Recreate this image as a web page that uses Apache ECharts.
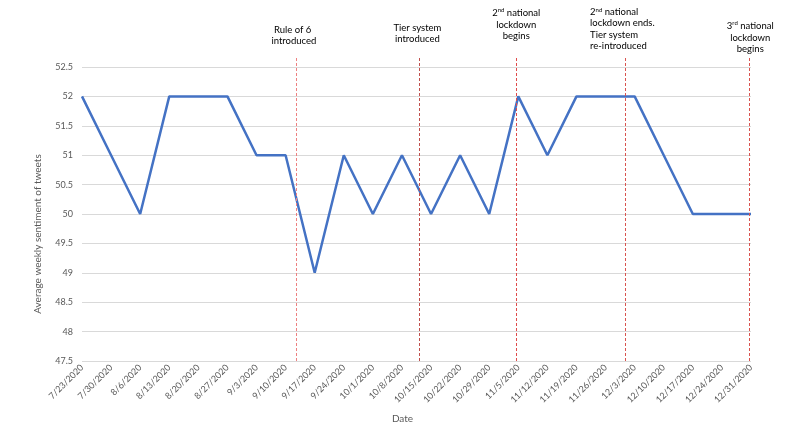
<!DOCTYPE html>
<html>
<head>
<meta charset="utf-8">
<script src="https://cdn.jsdelivr.net/npm/echarts@6/dist/echarts.min.js"></script>
<style>
    html, body { margin: 0; padding: 0; background: #fff; }
    #sentiment_line { width: 794px; height: 436px; }
</style>
</head>
<body>
<div id="sentiment_line"></div>
<script>

// Chart data
// ------------------------------

var dates = [
    '7/23/2020', '7/30/2020', '8/6/2020', '8/13/2020', '8/20/2020', '8/27/2020',
    '9/3/2020', '9/10/2020', '9/17/2020', '9/24/2020', '10/1/2020', '10/8/2020',
    '10/15/2020', '10/22/2020', '10/29/2020', '11/5/2020', '11/12/2020', '11/19/2020',
    '11/26/2020', '12/3/2020', '12/10/2020', '12/17/2020', '12/24/2020', '12/31/2020'
];

var sentiment = [
    52, 51, 50, 52, 52, 52,
    51, 51, 49, 51, 50, 51,
    50, 51, 50, 52, 51, 52,
    52, 52, 51, 50, 50, 50
];

// Event markers, position in weeks counted from 7/23/2020
var eventPositions = [7.38, 11.6, 14.93, 18.68, 22.94];
var eventLabels = [
    'Rule of 6\n introduced',
    'Tier system\nintroduced',
    '2{sup|nd} national\nlockdown\nbegins',
    '{l|2}{lsup|nd}{l| national}\n{l|lockdown ends.}\n{l|Tier system}\n{l|re-introduced}',
    '3{sup|rd} national\nlockdown\nbegins'
];

var yTicks = { min: 47.5, max: 52.5, step: 0.5 };


// Setup module
// ------------------------------

var EchartsSentimentLine = function() {

    var _sentimentLineExample = function() {
        if (typeof echarts == 'undefined') {
            console.warn('Warning - echarts.min.js is not loaded.');
            return;
        }

        var sentiment_element = document.getElementById('sentiment_line');
        if (!sentiment_element) return;

        var sentiment_chart = echarts.init(sentiment_element, null, { renderer: 'canvas' });

        var fontFamily = 'Lato, "Open Sans", sans-serif';

        // label placement tweaks for each marker
        var labelTweaks = [
            { distance: 9, offset: [-4, 0], color: '#ee8080' },
            { distance: 11, offset: [-2, 0], color: '#c0504d' },
            { distance: 14, offset: [0, 0], color: '#e04a4a' },
            { distance: 4, offset: [-3, 0], color: '#d9534f' },
            { distance: 1, offset: [1, 0], color: '#d9534f' }
        ];

        // marker lines live in a second grid which reaches a bit above the plot
        var markData = eventPositions.map(function(pos, i) {
            var t = labelTweaks[i];
            return [
                {
                    coord: [pos, 0],
                    lineStyle: { color: t.color, type: [3, 2], width: 1 },
                    label: {
                        show: true,
                        position: 'end',
                        distance: t.distance,
                        offset: t.offset,
                        formatter: eventLabels[i]
                    }
                },
                { coord: [pos, 1] }
            ];
        });

        sentiment_chart.setOption({

            textStyle: {
                fontFamily: fontFamily
            },

            animation: false,

            // Setup grid
            grid: [{
                left: 82,
                right: 43,
                top: 67,
                bottom: 75,
                containLabel: false
            }, {
                left: 82,
                right: 43,
                top: 56,
                bottom: 75,
                containLabel: false
            }],

            // Horizontal axis
            xAxis: [{
                type: 'value',
                gridIndex: 0,
                min: 0,
                max: dates.length - 1,
                interval: 1,
                name: 'Date',
                nameLocation: 'middle',
                nameGap: 53,
                nameTextStyle: {
                    color: '#595959',
                    fontSize: 10,
                    fontFamily: fontFamily,
                    padding: [0, 28, 0, 0]
                },
                axisLabel: {
                    rotate: 45,
                    margin: 5,
                    color: '#595959',
                    fontSize: 9,
                    fontFamily: fontFamily,
                    formatter: function(v) {
                        return dates[v] || '';
                    }
                },
                axisLine: { show: false },
                axisTick: { show: false },
                splitLine: { show: false }
            }, {
                type: 'value',
                gridIndex: 1,
                min: 0,
                max: dates.length - 1,
                show: false
            }],

            // Vertical axis
            yAxis: [{
                type: 'value',
                gridIndex: 0,
                min: yTicks.min,
                max: yTicks.max,
                interval: yTicks.step,
                name: 'Average weekly sentiment of tweets',
                nameLocation: 'middle',
                nameGap: 39,
                nameTextStyle: {
                    color: '#595959',
                    fontSize: 10,
                    fontFamily: fontFamily,
                    padding: [0, 40, 0, 0]
                },
                axisLabel: {
                    color: '#595959',
                    fontSize: 9,
                    margin: 9,
                    fontFamily: fontFamily
                },
                axisLine: { show: false },
                axisTick: { show: false },
                splitLine: {
                    show: true,
                    lineStyle: { color: '#d9d9d9', width: 1 }
                }
            }, {
                type: 'value',
                gridIndex: 1,
                min: 0,
                max: 1,
                show: false
            }],

            // Add series
            series: [{
                name: 'Sentiment',
                type: 'line',
                xAxisIndex: 0,
                yAxisIndex: 0,
                showSymbol: false,
                symbol: 'none',
                data: sentiment.map(function(v, i) { return [i, v]; }),
                lineStyle: {
                    color: '#4472c4',
                    width: 2.5
                },
                z: 3
            }, {
                name: 'Events',
                type: 'line',
                xAxisIndex: 1,
                yAxisIndex: 1,
                symbol: 'none',
                data: [],
                z: 2,
                markLine: {
                    silent: true,
                    symbol: ['none', 'none'],
                    animation: false,
                    label: {
                        color: '#000',
                        fontSize: 9.5,
                        lineHeight: 11.5,
                        fontFamily: fontFamily,
                        rich: {
                            sup: { fontSize: 6, verticalAlign: 'top', lineHeight: 11.5, padding: [0, 0, 3, 0] },
                            l: { align: 'left', fontSize: 9.5, lineHeight: 11.5 },
                            lsup: { align: 'left', fontSize: 6, lineHeight: 11.5, padding: [0, 0, 3, 0] }
                        }
                    },
                    data: markData
                }
            }]
        });
    };

    return {
        init: function() {
            _sentimentLineExample();
        }
    }
}();


// Initialize module
// ------------------------------

document.addEventListener('DOMContentLoaded', function() {
    EchartsSentimentLine.init();
});
</script>
</body>
</html>
